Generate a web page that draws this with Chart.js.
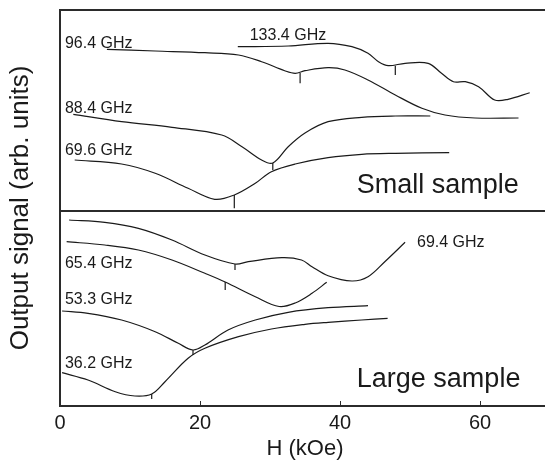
<!DOCTYPE html>
<html>
<head>
<meta charset="utf-8">
<script src="https://cdn.jsdelivr.net/npm/chart.js@4.4.1/dist/chart.umd.min.js"></script>
<style>
  html, body { margin: 0; padding: 0; background: #fff; overflow: hidden; }
  #wrap { width: 560px; height: 464px; }
</style>
</head>
<body>
<div id="wrap"><canvas id="c" width="560" height="464"></canvas></div>
<script>
'use strict';

// [H (kOe), signal (arb.)]; the panel divider sits at 195
const small964 = [[6.7, 356.7], [13.6, 355], [20.7, 353.3], [25.5, 351], [28.8, 344.3], [32.1, 335.3],
  [33.6, 332.7], [35, 335.3], [38.3, 338.3], [40.7, 336], [44, 326], [47.9, 311], [51.7, 297.7],
  [55, 291], [59.3, 288], [65.5, 288]];
const small1334 = [[25.4, 359.3], [32.6, 360], [38.3, 362.7], [41.7, 359.3], [44, 352.7], [45.5, 344.3],
  [46.9, 340.3], [49.3, 342.7], [52.6, 342.7], [54.5, 332.7], [56.2, 324.3], [57.9, 324.3], [59.8, 319.3],
  [62.1, 306], [64, 306.7], [67.1, 313.3]];
const small884 = [[1.9, 291.7], [8.8, 284.3], [16, 278.7], [23.1, 271], [26, 259.3], [28.8, 246],
  [30.4, 243], [32.6, 259.3], [35, 273], [38.3, 284.3], [43.1, 288.7], [47.9, 290], [52.9, 290]];
const small696 = [[2.1, 246], [8.8, 242], [13.6, 232.7], [18.3, 217.7], [22.1, 206.7], [24.9, 211],
  [27.9, 222.7], [30.2, 234.3], [33.6, 242], [38.3, 248.3], [43.1, 251.7], [47.9, 252.7], [55.6, 253.3]];

const large694 = [[1.3, 186], [6.4, 183.7], [11.2, 177.7], [16, 166], [20.7, 151], [25, 142],
  [26.9, 144.3], [31.7, 148.3], [34.5, 146], [36, 139.3], [38.3, 130.3], [41.7, 125], [44, 129.3],
  [46.4, 144.3], [49.3, 163.7]];
const large654 = [[0.95, 164.3], [6.4, 161], [11.2, 156], [16, 146], [20.7, 132.7], [23.6, 124],
  [27.9, 109.3], [31.3, 99.5], [33.6, 103], [36, 112.7], [38.1, 123.7]];
const large533 = [[0.3, 95], [4, 92.7], [8.8, 86], [13.6, 74.3], [16.9, 62.7], [19, 56], [20.7, 61],
  [24, 76], [27.9, 86], [32.6, 93.7], [38.3, 98.3], [44, 100.3]];
const large362 = [[0.3, 33.3], [4, 26], [7.9, 14.3], [10.7, 10], [13.1, 12], [15, 24.3], [18.3, 47.7],
  [20.7, 57.7], [25.5, 69.3], [30.2, 77], [35, 81.7], [38.3, 83.7], [43.1, 86], [46.8, 87.7]];

const curves = [small964, small1334, small884, small696, large694, large654, large533, large362];

// narrow resonance dips: [H, curve level, dip bottom]
const dips = [[34.3, 333, 322.7], [47.9, 340.3, 331], [30.4, 243, 236], [24.9, 211, 197.7],
  [25, 142, 136], [23.6, 124, 116], [19, 56, 51], [13.1, 12, 7]];

const xTicks = [0, 20, 40, 60];
const panelDivider = 195;

// text labels, anchored at [H, signal] (left edge, baseline)
const curveLabels = [
  ['96.4 GHz', 0.7, 357.7], ['133.4 GHz', 27.1, 366], ['88.4 GHz', 0.7, 292.7], ['69.6 GHz', 0.7, 251],
  ['65.4 GHz', 0.7, 137.7], ['53.3 GHz', 0.7, 101.7], ['36.2 GHz', 0.7, 37.7], ['69.4 GHz', 51, 159.3],
];
const panelLabels = [['Small sample', 42.4, 212.7], ['Large sample', 42.4, 19.3]];

const FONT = "'Liberation Sans', Arial, Helvetica, sans-serif";
const INK = '#1a1a1a';
const FRAME = '#2b2b2b';

const textLabels = {
  id: 'textLabels',
  afterDatasetsDraw(chart) {
    const { ctx, scales: { x, y } } = chart;
    ctx.save();
    ctx.fillStyle = INK;
    ctx.textBaseline = 'alphabetic';
    ctx.textAlign = 'left';
    ctx.font = `16px ${FONT}`;
    curveLabels.forEach(([t, hx, sy]) => ctx.fillText(t, x.getPixelForValue(hx), y.getPixelForValue(sy)));
    ctx.font = `27px ${FONT}`;
    panelLabels.forEach(([t, hx, sy]) => ctx.fillText(t, x.getPixelForValue(hx), y.getPixelForValue(sy)));
    ctx.restore();
  },
};

// short tick marks pointing into the plot from the bottom axis
const innerTicks = {
  id: 'innerTicks',
  afterDraw(chart) {
    const { ctx, chartArea, scales: { x } } = chart;
    ctx.save();
    ctx.strokeStyle = FRAME;
    ctx.lineWidth = 1;
    x.ticks.forEach(t => {
      if (t.value === 0) return;
      const px = Math.round(x.getPixelForValue(t.value)) + 0.5;
      ctx.beginPath();
      ctx.moveTo(px, chartArea.bottom);
      ctx.lineTo(px, chartArea.bottom - 5);
      ctx.stroke();
    });
    ctx.restore();
  },
};

const lineStyle = { borderColor: INK, borderWidth: 1.2, pointRadius: 0, fill: false };

new Chart(document.getElementById('c'), {
  type: 'line',
  data: {
    datasets: [
      ...curves.map(pts => ({ ...lineStyle, tension: 0.35, data: pts.map(([x, y]) => ({ x, y })) })),
      ...dips.map(([h, top, bottom]) => ({ ...lineStyle, tension: 0, data: [{ x: h, y: top }, { x: h, y: bottom }] })),
    ],
  },
  options: {
    responsive: false,
    animation: false,
    layout: { padding: { left: 0, top: 10, right: 10, bottom: 0 } },
    plugins: { legend: { display: false }, tooltip: { enabled: false } },
    scales: {
      x: {
        type: 'linear',
        min: 0,
        max: 70,
        afterBuildTicks: (scale) => { scale.ticks = xTicks.map(v => ({ value: v })); },
        ticks: { color: INK, padding: 7.4, font: { size: 20, family: FONT, lineHeight: 1 } },
        grid: { display: false, drawTicks: false },
        border: { display: true, color: FRAME, width: 2 },
        title: { display: true, text: 'H (kOe)', color: INK, font: { size: 22, family: FONT, lineHeight: 0.75 }, padding: { top: 0, bottom: 6.7 } },
      },
      xTop: {
        type: 'linear',
        position: 'top',
        min: 0,
        max: 70,
        ticks: { display: false },
        grid: { display: false, drawTicks: false },
        border: { display: true, color: FRAME, width: 2 },
      },
      y: {
        type: 'linear',
        min: 0,
        max: 396,
        afterBuildTicks: (scale) => { scale.ticks = [{ value: panelDivider }]; },
        ticks: { display: false },
        grid: { color: FRAME, lineWidth: 2, drawTicks: false },
        border: { display: true, color: FRAME, width: 2 },
        title: { display: true, text: 'Output signal (arb. units)', color: INK, font: { size: 26, family: FONT }, padding: { top: 5, bottom: 23.8 } },
      },
    },
  },
  plugins: [textLabels, innerTicks],
});
</script>
</body>
</html>
